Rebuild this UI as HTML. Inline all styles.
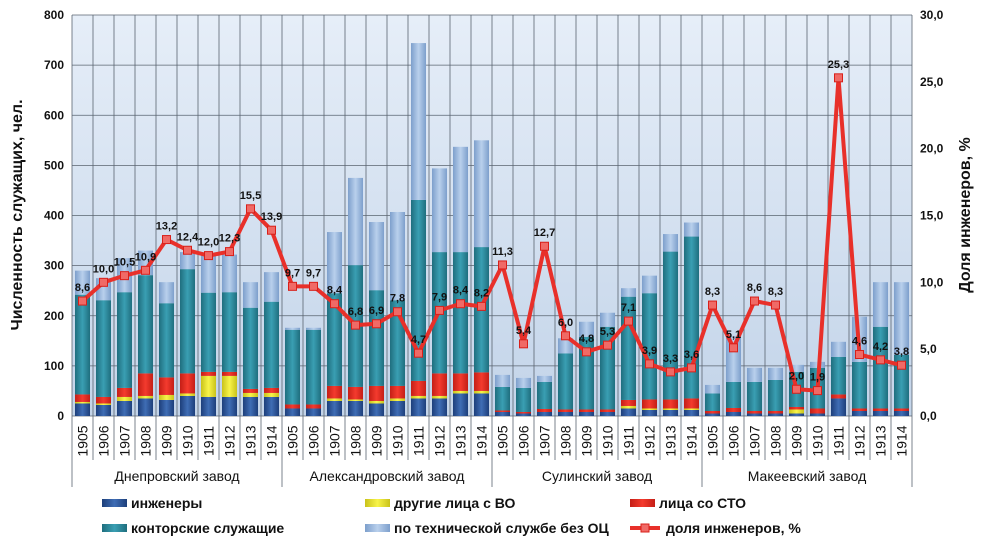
<!DOCTYPE html>
<html><head><meta charset="utf-8">
<style>
body{margin:0;background:#fff;width:986px;height:549px;overflow:hidden;font-family:"Liberation Sans",sans-serif}
svg text{font-family:"Liberation Sans",sans-serif}
</style></head>
<body>
<svg id="chart" width="986" height="549" viewBox="0 0 986 549" xmlns="http://www.w3.org/2000/svg">
<defs>
<linearGradient id="bg" x1="0" y1="0" x2="0" y2="1"><stop offset="0" stop-color="#e6eef8"/><stop offset="1" stop-color="#c3d4e9"/></linearGradient>
<linearGradient id="gEng" x1="0" x2="1"><stop offset="0" stop-color="#1d3f7a"/><stop offset=".5" stop-color="#3f6db5"/><stop offset="1" stop-color="#1d3f7a"/></linearGradient>
<linearGradient id="gOth" x1="0" x2="1"><stop offset="0" stop-color="#c9c21a"/><stop offset=".5" stop-color="#f8f44a"/><stop offset="1" stop-color="#c9c21a"/></linearGradient>
<linearGradient id="gSto" x1="0" x2="1"><stop offset="0" stop-color="#c41e16"/><stop offset=".5" stop-color="#f43b2e"/><stop offset="1" stop-color="#c41e16"/></linearGradient>
<linearGradient id="gOff" x1="0" x2="1"><stop offset="0" stop-color="#1f6e7e"/><stop offset=".5" stop-color="#3a9fb3"/><stop offset="1" stop-color="#1f6e7e"/></linearGradient>
<linearGradient id="gTech" x1="0" x2="1"><stop offset="0" stop-color="#7d9fcc"/><stop offset=".5" stop-color="#b9d0ec"/><stop offset="1" stop-color="#7d9fcc"/></linearGradient>
</defs>
<rect x="72" y="15" width="840" height="401" fill="url(#bg)"/>
<g id="grid"></g><g id="bars"></g><g id="line"></g><g id="axes"></g><g id="legend"></g>
</svg>
<script>
const groups=["Днепровский завод","Александровский завод","Сулинский завод","Макеевский завод"];
const years=["1905","1906","1907","1908","1909","1910","1911","1912","1913","1914"];
const engineers=[25,22,30,35,32,40,38,38,38,38, 15,15,30,30,25,30,35,35,45,45, 8,5,8,8,8,8,15,12,12,12, 5,8,5,5,5,5,35,10,10,10];
const otherHigher=[3,3,8,5,10,5,42,42,8,8, 0,0,5,3,5,5,5,5,5,5, 0,0,0,0,0,0,5,3,3,3, 0,0,0,0,8,0,0,0,0,0];
const stoStaff=[15,13,18,45,35,40,8,8,8,10, 8,8,25,25,30,25,30,45,35,37, 3,3,6,5,5,5,12,18,18,20, 5,8,5,5,5,10,8,5,5,5];
const officeStaff=[199,193,191,196,148,208,158,159,162,172, 149,149,185,243,191,171,361,242,242,250, 47,48,54,112,145,165,206,212,295,323, 35,52,58,62,70,81,75,93,163,107];
const techStaff=[48,44,68,49,42,34,75,75,51,59, 4,4,122,174,136,176,313,167,210,213, 24,20,12,30,30,28,17,35,35,28, 17,92,28,24,14,12,30,90,89,145];
const engShare=[8.6,10.0,10.5,10.9,13.2,12.4,12.0,12.3,15.5,13.9, 9.7,9.7,8.4,6.8,6.9,7.8,4.7,7.9,8.4,8.2, 11.3,5.4,12.7,6.0,4.8,5.3,7.1,3.9,3.3,3.6, 8.3,5.1,8.6,8.3,2.0,1.9,25.3,4.6,4.2,3.8];
const leftTicks=[0,100,200,300,400,500,600,700,800];
const rightTicks=[0,5,10,15,20,25,30];

const NS="http://www.w3.org/2000/svg";
const X0=72,X1=912,Y0=416,Y1=15;
const n=engineers.length, slot=(X1-X0)/n;
const yL=v=>Y0-(v/800)*(Y0-Y1);
const yR=v=>Y0-(v/30)*(Y0-Y1);
const xC=i=>X0+slot*(i+0.5);
function mk(tag,attrs,parent){const e=document.createElementNS(NS,tag);for(const k in attrs)e.setAttribute(k,attrs[k]);parent.appendChild(e);return e;}
const grid=document.getElementById('grid'),bars=document.getElementById('bars'),line=document.getElementById('line'),axes=document.getElementById('axes'),legend=document.getElementById('legend');

leftTicks.forEach(t=>{
  const l=mk('line',{x1:X0,x2:X1,y1:yL(t),y2:yL(t),stroke:'#5a6470','stroke-width':0.8},grid);
  
  
  const tx=mk('text',{x:64,y:yL(t)+4,'text-anchor':'end','font-size':12,'font-weight':'bold',fill:'#111'},axes);
  tx.textContent=t;
  
  
});
rightTicks.forEach(t=>{
  const tx=mk('text',{x:920,y:yR(t)+4,'font-size':12,'font-weight':'bold',fill:'#111'},axes);
  tx.textContent=t.toFixed(1).replace('.',',');
  
  
});
for(let i=0;i<=n;i++){
  const x=X0+slot*i;
  const big=i%10===0;
  const l=mk('line',{x1:x,x2:x,y1:Y1,y2:big?487:460,stroke:'#5a6470','stroke-width':0.8},grid);
  
  
}

const series=[[engineers,'gEng'],[otherHigher,'gOth'],[stoStaff,'gSto'],[officeStaff,'gOff'],[techStaff,'gTech']];
const bw=15;
for(let i=0;i<n;i++){
  let acc=0;
  series.forEach(([arr,g],si)=>{
    const v=arr[i]; if(v<=0)return;
    const yt=yL(acc+v), yb=yL(acc);
    const r=mk('rect',{x:xC(i)-bw/2,y:yt,width:bw,height:yb-yt,fill:'url(#'+g+')'},bars);
    
    
    acc+=v;
  });
  const ty=mk('text',{transform:`translate(${xC(i)+5},441) rotate(-90)`,'text-anchor':'middle','font-size':14,fill:'#111'},axes);
  ty.textContent=years[i%10];
  
  
}
groups.forEach((g,gi)=>{
  const t=mk('text',{x:X0+slot*10*(gi+0.5),y:481,'text-anchor':'middle','font-size':14,fill:'#111'},axes);
  t.textContent=g;
  
  
});
const pts=engShare.map((v,i)=>xC(i)+','+yR(v)).join(' ');
const pl=mk('polyline',{points:pts,fill:'none',stroke:'#e8302a','stroke-width':4,'stroke-linejoin':'round'},line);


engShare.forEach((v,i)=>{
  const m=mk('rect',{x:xC(i)-4,y:yR(v)-4,width:8,height:8,fill:'#f06a66',stroke:'#d8201a','stroke-width':1},line);
  
  
  const t=mk('text',{x:xC(i),y:yR(v)-10,'text-anchor':'middle','font-size':11,'font-weight':'bold',fill:'#111'},line);
  t.textContent=v.toFixed(1).replace('.',',');
  
  
});
const yt1=mk('text',{transform:'translate(22,215) rotate(-90)','text-anchor':'middle','font-size':16,'font-weight':'bold',fill:'#111'},axes);
yt1.textContent='Численность служащих, чел.';


const yt2=mk('text',{transform:'translate(970,215) rotate(-90)','text-anchor':'middle','font-size':16,'font-weight':'bold',fill:'#111'},axes);
yt2.textContent='Доля инженеров, %';



const legItems=[['инженеры','gEng',102,505],['другие лица с ВО','gOth',365,505],['лица со СТО','gSto',630,505],['конторские служащие','gOff',102,530],['по технической службе без ОЦ','gTech',365,530]];
legItems.forEach(([lab,g,x,y])=>{
  const r=mk('rect',{x:x,y:y-6,width:25,height:8,fill:'url(#'+g+')'},legend);
  
  
  const t=mk('text',{x:x+29,y:y+3,'font-size':14,'font-weight':'bold',fill:'#111'},legend);
  t.textContent=lab;
  
  
});
mk('line',{x1:630,x2:660,y1:528,y2:528,stroke:'#e8302a','stroke-width':4},legend);
mk('rect',{x:641,y:524,width:8,height:8,fill:'#f06a66',stroke:'#d8201a'},legend);
const lt=mk('text',{x:666,y:533,'font-size':14,'font-weight':'bold',fill:'#111'},legend);
lt.textContent='доля инженеров, %';


</script>
</body></html>
